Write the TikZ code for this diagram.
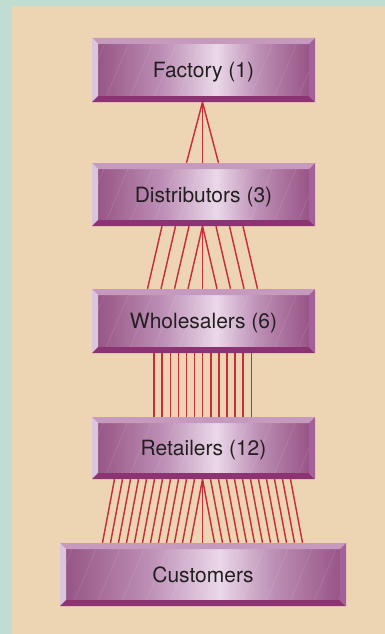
\documentclass[tikz,border=0pt]{standalone}
\usepackage{fontspec}
\setmainfont{TeX Gyre Heros}
\usetikzlibrary{calc}
\definecolor{bggreen}{HTML}{BFDDD0}
\definecolor{bgtan}{HTML}{EDD5B3}
\definecolor{linkred}{HTML}{C62E3C}
\definecolor{bvtop}{HTML}{C699BF}
\definecolor{bvleft}{HTML}{DBC5DB}
\definecolor{bvbottom}{HTML}{8B3373}
\definecolor{bvright}{HTML}{A3619A}
\definecolor{fdark}{HTML}{975686}
\definecolor{fmid}{HTML}{BC8EB5}
\definecolor{flight}{HTML}{EAD8E8}
\definecolor{fdarkr}{HTML}{985587}
\definecolor{txt}{HTML}{231F20}
\pgfdeclarehorizontalshading{faceshade}{100bp}{color(0bp)=(fdark); color(25bp)=(fdark); color(40bp)=(fmid); color(53bp)=(flight); color(63bp)=(fmid); color(75bp)=(fdarkr); color(100bp)=(fdarkr)}
\pgfdeclarelayer{bg}
\pgfdeclarelayer{lines}
\pgfsetlayers{bg,lines,main}
\tikzset{
  link/.style={draw=linkred, line width=1.45pt},
  boxlabel/.style={inner sep=0pt, text=txt, font=\fontsize{21}{25}\selectfont, text height=15pt, text depth=0pt}
}
\newcommand{\bevbox}[6]{%
  \shade[shading=faceshade] (#2+6,#3+6) rectangle (#4-6,#5-6);
  \begin{scope}
    \clip (#2+6,#3+6) rectangle (#4-6,#5-6);
    \foreach \t in {0,24,...,330} \draw[white, opacity=0.16, line width=0.4pt] (#2+\t-12,#5) -- ++(30,-71);
  \end{scope}
  \fill[bvtop] (#2,#3) -- (#4,#3) -- (#4-6,#3+6) -- (#2+6,#3+6) -- cycle;
  \fill[bvleft] (#2,#3) -- (#2+6,#3+6) -- (#2+6,#5-6) -- (#2,#5) -- cycle;
  \fill[bvbottom] (#2,#5) -- (#2+6,#5-6) -- (#4-6,#5-6) -- (#4,#5) -- cycle;
  \fill[bvright] (#4,#3) -- (#4-6,#3+6) -- (#4-6,#5-6) -- (#4,#5) -- cycle;
  \node[boxlabel, minimum width={#4-#2}, minimum height={#5-#3}] (#1) at ({(#2+#4)/2},{(#3+#5)/2}) {#6};
}
\begin{document}
\begin{tikzpicture}[x=1pt, y=-1pt]
\begin{pgfonlayer}{bg}
  \fill[bggreen] (0,0) rectangle (385,634);
  \fill[bgtan] (12,6) rectangle (385,634);
\end{pgfonlayer}
\useasboundingbox (0,0) rectangle (385,634);

\bevbox{fac}{92}{38}{315}{102}{Factory (1)}
\bevbox{dis}{92}{163}{315}{226}{Distributors (3)}
\bevbox{who}{92}{289}{315}{353}{Wholesalers (6)}
\bevbox{ret}{92}{417}{315}{479}{Retailers (12)}
\bevbox{cus}{60}{543}{346}{606}{Customers}

\begin{pgfonlayer}{lines}
  % Factory -> Distributors
  \foreach \o in {-17,-1,15}
    \draw[link] ($(fac.south)+(-1,0)$) -- ($(dis.north)+(\o,0)$);
  % Distributors -> Wholesalers
  \draw[link] ($(dis.south)+(-1,0)$) -- ($(who.north)+(-1,0)$);
  \foreach \k in {0,...,3} {
    \draw[link] ($(dis.south)+({-1-13.5*\k},0)$) -- ($(who.north)+({-15.5-13.5*\k},0)$);
    \draw[link] ($(dis.south)+({-1+13.5*\k},0)$) -- ($(who.north)+({13.5+13.5*\k},0)$);
  }
  % Wholesalers -> Retailers
  \foreach \k in {-6,...,6}
    \draw[link] ($(who.south)+({-0.8+8.1*\k},0)$) -- ($(ret.north)+({-0.8+8.1*\k},0)$);
  % Retailers -> Customers
  \draw[link] ($(ret.south)+(-1,0)$) -- ($(cus.north)+(-0.5,0)$);
  \foreach \k in {0,...,11} {
    \draw[link] ($(ret.south)+({-1-8*\k},0)$) -- ($(cus.north)+({-12.5-8*\k},0)$);
    \draw[link] ($(ret.south)+({-1+8*\k},0)$) -- ($(cus.north)+({11.5+8*\k},0)$);
  }
\end{pgfonlayer}
\end{tikzpicture}
\end{document}
